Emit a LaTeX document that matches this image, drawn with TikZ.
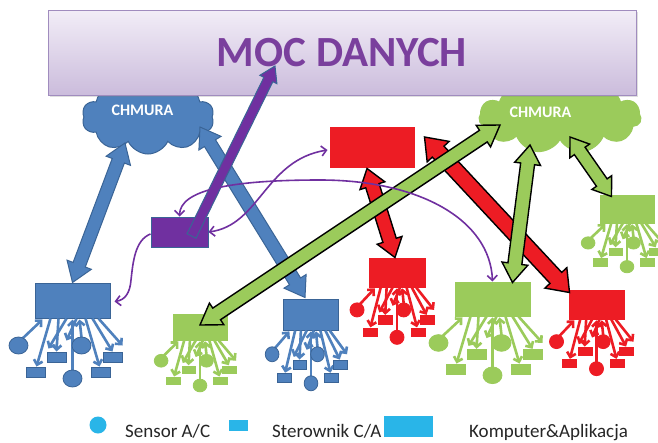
\documentclass[tikz,border=0pt]{standalone}
\usepackage{fontspec}
\setmainfont{Carlito}
\usetikzlibrary{calc,shapes.symbols,arrows.meta,shadows}

\definecolor{cblue}{HTML}{4F81BD}
\definecolor{cblueD}{HTML}{3A6496}
\definecolor{cgreen}{HTML}{9BCB5B}
\definecolor{cred}{HTML}{ED1C24}
\definecolor{cpurp}{HTML}{7030A0}
\definecolor{ctitle}{HTML}{7A3F9D}
\definecolor{clegend}{HTML}{29B5E8}
\definecolor{bantop}{HTML}{F2EDF7}
\definecolor{banbot}{HTML}{CBBCDC}
\definecolor{banline}{HTML}{A08CBE}

% double-headed block arrow: style, A, B, half shaft, half head, head length
\newcommand\blkarrow[6]{%
  \coordinate (ba1) at ($(#2)!#6!(#3)$);
  \coordinate (bb1) at ($(#3)!#6!(#2)$);
  \filldraw[#1] (#2) -- ($(ba1)!#5!90:(#3)$) -- ($(ba1)!#4!90:(#3)$) -- ($(bb1)!#4!90:(#3)$) -- ($(bb1)!#5!90:(#3)$) -- (#3) -- ($(bb1)!#5!-90:(#3)$) -- ($(bb1)!#4!-90:(#3)$) -- ($(ba1)!#4!-90:(#3)$) -- ($(ba1)!#5!-90:(#3)$) -- cycle;}
% single-headed block arrow
\newcommand\blkarrowone[6]{%
  \coordinate (bb1) at ($(#3)!#6!(#2)$);
  \filldraw[#1] ($(#2)!#4!90:(#3)$) -- ($(bb1)!#4!90:(#3)$) -- ($(bb1)!#5!90:(#3)$) -- (#3) -- ($(bb1)!#5!-90:(#3)$) -- ($(bb1)!#4!-90:(#3)$) -- ($(#2)!#4!-90:(#3)$) -- cycle;}
% tree of sensors and controllers below a box: node, xscale, yscale, fill, outline
\newcommand\branches[5]{%
  \begin{scope}[shift={(#1.south)}, xscale=#2, yscale=#3]
    \foreach \s/\e in {{(-50,20)}/{(-30,1)}, {(-22,0)}/{(-36,48)}, {(-14,0)}/{(-16,33)},
                       {(-6,0)}/{(-24,30)}, {(0,52)}/{(0,1)}, {(9,19)}/{(7,1)},
                       {(13,0)}/{(27,48)}, {(20,0)}/{(40,33)}, {(26,0)}/{(50,27)}, {(4,0)}/{(-6,22)}}
      \draw[draw=#4, line width=2.6pt, -{Straight Barb[length=4.5pt,width=9pt]}] \s -- \e;
    \foreach \c in {(-54,27),(0,60),(9,27)}
      \filldraw[fill=#4, draw=#5, line width=0.8pt] \c ellipse [x radius=9.5, y radius=8.5];
    \foreach \a/\b in {{(-46,49)}/{(-27,59)}, {(-25,34)}/{(-6,44)}, {(19,49)}/{(38,59)}, {(31,34)}/{(50,44)}}
      \filldraw[fill=#4, draw=#5, line width=0.8pt] \a rectangle \b;
  \end{scope}}

\tikzset{
  comp/.style={rectangle, inner sep=0pt, line width=1pt},
  blues/.style={fill=cblue, draw=cblueD, line width=1pt},
  reds/.style={fill=cred, draw=black, line width=1.4pt, line join=miter},
  greens/.style={fill=cgreen, draw=black, line width=1.4pt, line join=miter},
  purps/.style={fill=cpurp, draw=cblueD, line width=1pt},
  pcurve/.style={draw=cpurp, line width=1.6pt},
  cloudtext/.style={text=white, font=\bfseries\fontsize{16}{16}\selectfont, inner sep=0pt},
  legtext/.style={anchor=base west, text=black!85, font=\fontsize{19}{19}\selectfont, inner sep=0pt},
}

\begin{document}
\begin{tikzpicture}[x=1pt, y=-1pt]
\useasboundingbox (0,0) rectangle (658,442);
\fill[white] (0,0) rectangle (658,442);

% clouds
\node[cloud, cloud puffs=10, cloud puff arc=130, aspect=2, minimum width=132, minimum height=74,
      inner sep=0pt, fill=cblue, draw=cblueD, line width=1pt] (cl1) at (148,117) {};
\node[cloud, cloud puffs=11, cloud puff arc=130, aspect=2.3, minimum width=162, minimum height=72,
      inner sep=0pt, fill=cgreen, draw=cgreen, line width=1pt] (cl2) at (560,117) {};
\node[cloudtext] (cl1t) at (142.5,110) {CHMURA};
\node[cloudtext] (cl2t) at (540.5,112) {CHMURA};

% banner
\node[draw=banline, line width=1pt, top color=bantop, bottom color=banbot,
      minimum width=588, minimum height=85, inner sep=0pt,
      drop shadow={opacity=0.25, shadow xshift=1.5pt, shadow yshift=-2pt},
      text=ctitle, font=\bfseries\fontsize{43}{43}\selectfont] (ban) at (342,52.5) {MOC DANYCH};

% computers
\node[comp, fill=cblue, draw=cblueD, minimum width=75, minimum height=35] (bl1) at (72.5,300.5) {};
\node[comp, fill=cblue, draw=cblueD, minimum width=55, minimum height=31] (bl2) at (311,314.5) {};
\node[comp, fill=cgreen, draw=cgreen, minimum width=54, minimum height=26] (gr1) at (200,327) {};
\node[comp, fill=cgreen, draw=cgreen, minimum width=75, minimum height=34] (gr2) at (492.5,299) {};
\node[comp, fill=cgreen, draw=cgreen, minimum width=54, minimum height=28] (gr3) at (627,209) {};
\node[comp, fill=cred, draw=cred, minimum width=84, minimum height=40] (rd1) at (372,147) {};
\node[comp, fill=cred, draw=cred, minimum width=56, minimum height=29] (rd2) at (397,272.5) {};
\node[comp, fill=cred, draw=cred, minimum width=55, minimum height=29] (rd3) at (596.5,304.5) {};
\node[comp, fill=cpurp, draw=cblueD, minimum width=57, minimum height=30] (pu) at (179.5,232) {};

% arrow end points
\coordinate (b1a) at (125,143);
\coordinate (b2a) at (200,127);
\coordinate (b2b) at ($(bl2.north)+(-6,-1)$);
\coordinate (pa) at ($(pu.center)+(12,4)$);
\coordinate (pb) at (275,66);
\coordinate (r1a) at ($(rd1.south)+(-5,1)$);
\coordinate (r1b) at ($(rd2.north)+(-2,0)$);
\coordinate (r2a) at ($(rd1.east)+(10,-10)$);
\coordinate (r2b) at ($(rd3.north west)+(1,3)$);
\coordinate (g1a) at (500,125);
\coordinate (g1b) at ($(gr1.center)+(0,-2)$);
\coordinate (g2a) at (530,145);
\coordinate (g2b) at ($(gr2.north)+(20,1)$);
\coordinate (g3a) at (570,137);
\coordinate (g3b) at ($(gr3.north west)+(12,2)$);

% blue links
\blkarrow{blues}{b1a}{bl1.north}{6.5pt}{13pt}{19pt}
\blkarrow{blues}{b2a}{b2b}{6.5pt}{13pt}{19pt}

% trees
\branches{bl1}{1}{1}{cblue}{cblueD}
\branches{bl2}{0.72}{0.88}{cblue}{cblueD}
\branches{gr1}{0.72}{0.75}{cgreen}{cgreen}
\branches{gr2}{1}{0.98}{cgreen}{cgreen}
\branches{gr3}{0.72}{0.72}{cgreen}{cgreen}
\branches{rd2}{0.74}{0.83}{cred}{cred}
\branches{rd3}{0.74}{0.82}{cred}{cred}

% purple link to the banner
\blkarrowone{purps}{pa}{pb}{5pt}{9.5pt}{15pt}

% red and green links
\blkarrow{reds}{r1a}{r1b}{7pt}{13pt}{18pt}
\blkarrow{reds}{r2a}{r2b}{8pt}{15pt}{20pt}
\blkarrow{greens}{g2a}{g2b}{7pt}{13pt}{19pt}
\blkarrow{greens}{g3a}{g3b}{6.5pt}{12pt}{17pt}
\blkarrow{greens}{g1a}{g1b}{7pt}{13pt}{20pt}

% thin purple curves
\draw[pcurve, {Straight Barb[length=5pt,width=10pt]}-{Straight Barb[length=5pt,width=10pt]}]
  (pu.east) .. controls (260,225) and (265,160) .. ($(rd1.west)+(-2,3)$);
\draw[pcurve, {Straight Barb[length=5pt,width=10pt]}-{Straight Barb[length=5pt,width=10pt]}]
  (pu.north) .. controls (180,190) and (230,180) .. (320,180)
  .. controls (420,180) and (490,220) .. (gr2.north);
\draw[pcurve, -{Straight Barb[length=5pt,width=10pt]}]
  ($(pu.west)+(0,2)$) .. controls (135,240) and (133,262) .. (131,280)
  .. controls (130,293) and (125,300) .. ($(bl1.east)+(4,1)$);

% legend
\node[circle, fill=clegend, minimum size=17, inner sep=0pt] (lg1) at (98,425) {};
\node[legtext] (lt1) at (125,437) {Sensor A/C};
\node[rectangle, fill=clegend, minimum width=19, minimum height=11, inner sep=0pt] (lg2) at (238.5,425.5) {};
\node[legtext] (lt2) at (272,437) {Sterownik C/A};
\node[rectangle, fill=clegend, minimum width=49, minimum height=21, inner sep=0pt] (lg3) at (408.5,426) {};
\node[legtext] (lt3) at (469,437) {Komputer\&Aplikacja};
\end{tikzpicture}
\end{document}
